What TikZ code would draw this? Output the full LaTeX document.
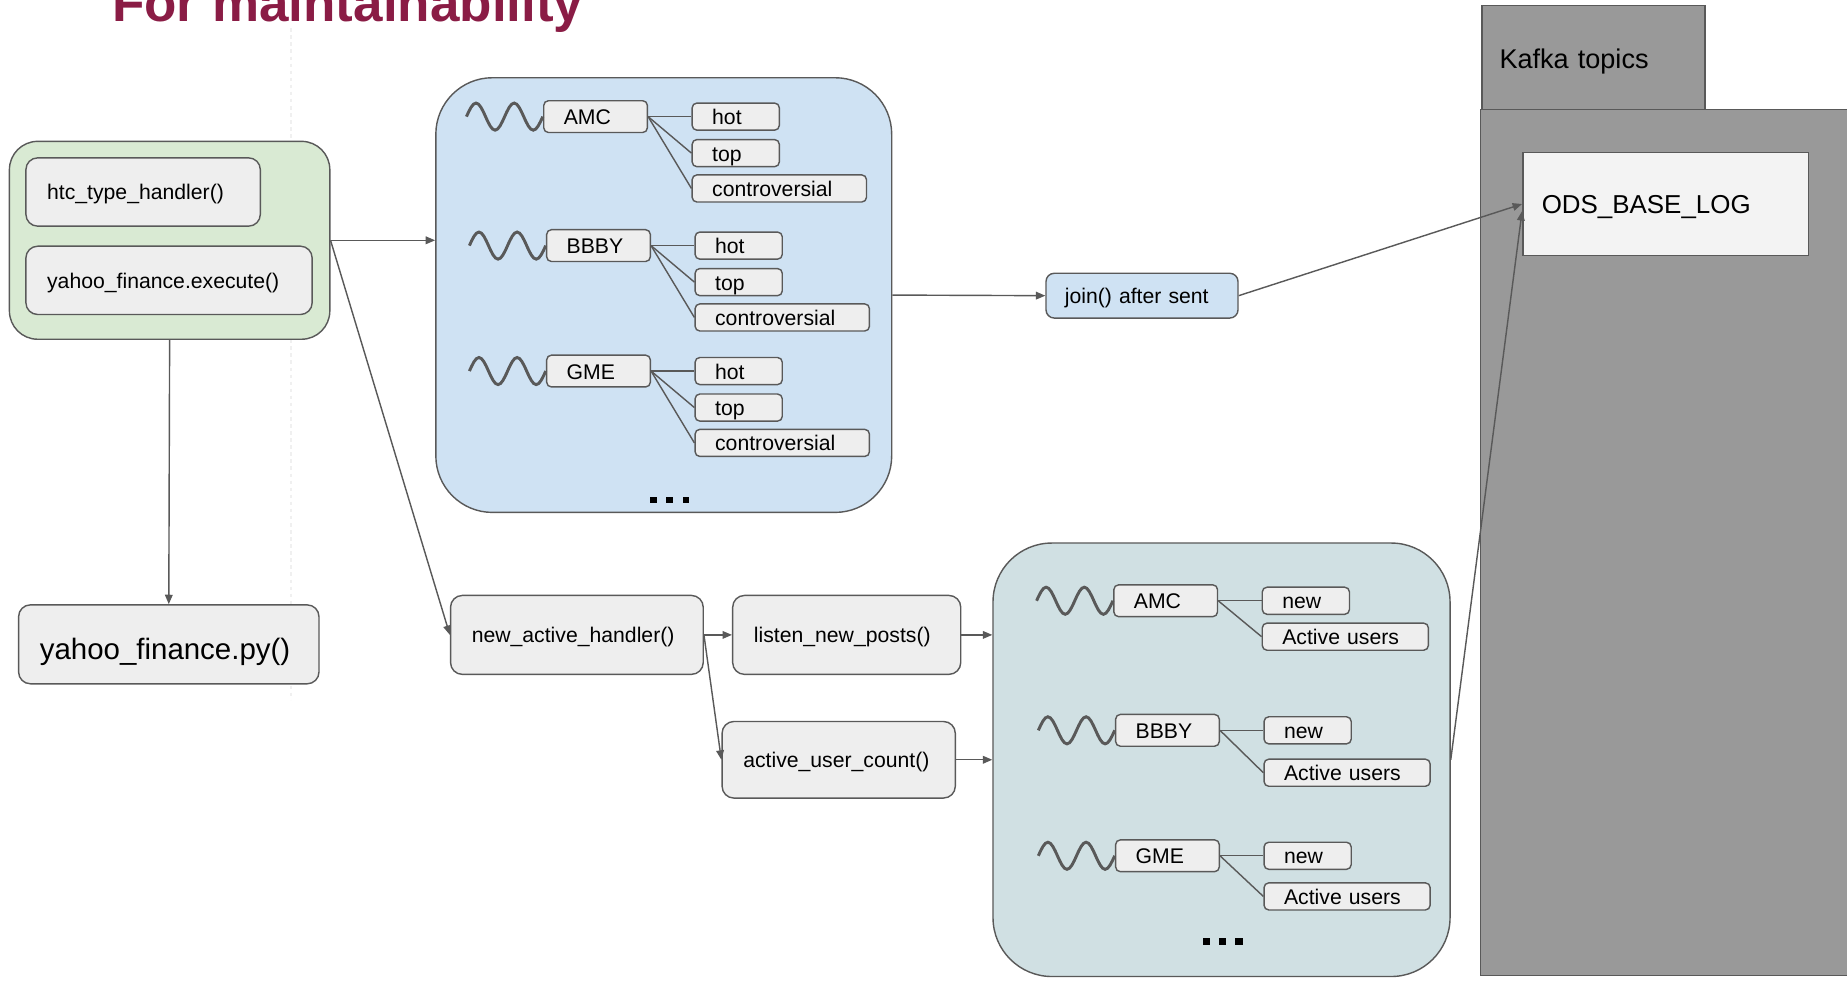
\documentclass[tikz,border=0pt]{standalone}
\usepackage{fontspec}
\setmainfont{Liberation Sans}
\usetikzlibrary{arrows.meta}
\definecolor{edgegray}{HTML}{595959}
\definecolor{greenbg}{HTML}{D9EAD3}
\definecolor{bluebg}{HTML}{CFE2F3}
\definecolor{tealbg}{HTML}{D0E0E3}
\definecolor{boxgray}{HTML}{EEEEEE}
\definecolor{kafkagray}{HTML}{999999}
\definecolor{odsgray}{HTML}{F3F3F3}
\definecolor{titlered}{HTML}{8A1C45}
\newcommand{\tickwave}[1]{\draw[wavy] ([xshift=-65pt]#1.west) sin ++(8.1,-11.5) cos ++(8.1,11.5) sin ++(8.1,11.5) cos ++(8.1,-11.5) sin ++(8.1,-11.5) cos ++(8.1,11.5) sin ++(8.1,11.5) cos ++(8.1,-11.5);}

\begin{document}
\begin{tikzpicture}[x=1pt, y=-1pt, font=\fontsize{18}{22}\selectfont,
    group/.style={draw=edgegray, line width=1.2pt, rounded corners=#1},
    fn/.style={draw=edgegray, line width=1.2pt, fill=boxgray, rounded corners=10pt, inner xsep=18pt, inner ysep=0pt, align=left, minimum height=67pt, text height=13.5pt, text depth=0pt},
    tick/.style={draw=edgegray, line width=1.2pt, fill=boxgray, rounded corners=4pt, inner xsep=17pt, inner ysep=0pt, text width=54pt, minimum height=27pt, align=left, text height=13.5pt, text depth=0pt, anchor=west},
    leaf/.style={tick, minimum height=23pt, text width=#1},
    wavy/.style={draw=edgegray, line width=2.5pt},
    link/.style={draw=edgegray, line width=1.2pt},
    flow/.style={link, -{Triangle[length=8pt,width=6.5pt]}}]
    \useasboundingbox (0,0) rectangle (1568,832);
    \clip (0,0) rectangle (1568,832);
    \fill[white] (0,0) rectangle (1568,832);
    \draw[gray!12, dashed, line width=1pt] (247,24) -- (247,594);
    \node[anchor=base west, inner sep=0pt, text=titlered, font=\fontsize{45}{54}\selectfont\bfseries] (title) at (95,18.5) {For maintainability};

    \node[group=24pt, fill=greenbg, minimum width=272pt, minimum height=168pt] (exec) at (144,204) {};
    \node[fn, text width=163pt, minimum height=58pt] (htc) at (121.5,163) {htc\_type\_handler()};
    \node[fn, text width=207pt, minimum height=58pt] (execute) at (143.5,238) {yahoo\_finance.execute()};
    \node[fn, text width=219pt, font=\fontsize{25}{30}\selectfont, text height=25pt] (yfp) at (143.3,547) {yahoo\_finance.py()};

    \node[group=48pt, fill=bluebg, minimum width=387pt, minimum height=369pt] (posts) at (563.5,250.5) {};
    \foreach \t/\x/\y in {AMC/461/99, BBBY/463.5/208.5, GME/463.5/315}{
        \node[tick] (p\t) at (\x,\y) {\t};
        \node[leaf=40pt] (hot\t) at (\x+126,\y) {hot};
        \node[leaf=40pt] (top\t) at (\x+126,\y+31) {top};
        \node[leaf=114pt] (con\t) at (\x+126,\y+61) {controversial};
        \foreach \s in {hot,top,con} \draw[link] (p\t.east) -- (\s\t.west);
        \tickwave{p\t}
    }
    \foreach \x in {554.6,568.2,582.5} \fill (\x-2.8,421.7) rectangle ++(5.6,5.6);

    \node[fn, fill=bluebg, rounded corners=7pt, inner xsep=16pt, text width=131pt, minimum height=38pt] (join) at (969.5,251) {join() after sent};

    \node[fn, text width=178.5pt] (nah) at (489.75,539) {new\_active\_handler()};
    \node[fn, text width=157.6pt] (lnp) at (718.8,539) {listen\_new\_posts()};
    \node[fn, text width=162pt, minimum height=65pt] (auc) at (712,645) {active\_user\_count()};

    \node[group=50pt, fill=tealbg, minimum width=388pt, minimum height=368pt] (users) at (1037,645) {};
    \foreach \t/\x/\y/\d in {AMC/945/510/30.5, BBBY/946.5/620/36, GME/946.5/726.5/34.5}{
        \node[tick] (u\t) at (\x,\y) {\t};
        \node[leaf=40pt] (new\t) at (\x+126,\y) {new};
        \node[leaf=107pt] (act\t) at (\x+126,\y+\d) {Active users};
        \foreach \s in {new,act} \draw[link] (u\t.east) -- (\s\t.west);
        \tickwave{u\t}
    }
    \foreach \x in {1024.2,1038,1051.8} \fill (\x-3.2,796.6) rectangle ++(6.4,5.8);

    \node[draw=edgegray, line width=1.2pt, fill=kafkagray, minimum width=189.6pt, minimum height=88pt, inner xsep=15pt, inner ysep=0pt, text width=159.6pt, align=left, text height=18.4pt, text depth=0pt, font=\fontsize{23}{28}\selectfont] (tab) at (1352.8,48.8) {Kafka topics};
    \node[draw=edgegray, line width=1.2pt, fill=kafkagray, minimum width=318pt, minimum height=735pt] (kafka) at (1416,460.5) {};
    \node[draw=edgegray, line width=1.2pt, fill=odsgray, minimum width=242.3pt, minimum height=87.7pt, inner xsep=16pt, inner ysep=0pt, text width=210pt, align=left, text height=16pt, text depth=0pt, font=\fontsize{22}{27}\selectfont] (ods) at (1413.9,173.2) {ODS\_BASE\_LOG};

    \draw[flow] (exec.east) -- (exec.east -| posts.west);
    \draw[flow] (exec.east) -- (nah.west);
    \draw[flow] (exec.south) -- (yfp.north);
    \draw[flow] (posts.east) -- (join.west);
    \draw[flow] (join.east) -- (ods.west);
    \draw[flow] (nah.east) -- (lnp.west);
    \draw[flow] (nah.east) -- (auc.west);
    \draw[flow] (lnp.east) -- (lnp.east -| users.west);
    \draw[flow] (auc.east) -- (auc.east -| users.west);
    \draw[flow] (users.east) -- ([yshift=-6pt]ods.west);
\end{tikzpicture}
\end{document}
